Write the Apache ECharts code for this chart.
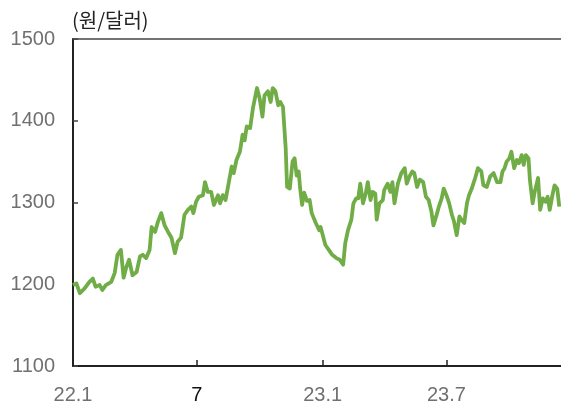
<!DOCTYPE html>
<html>
<head>
<meta charset="utf-8">
<script src="https://cdn.jsdelivr.net/npm/echarts@6/dist/echarts.min.js"></script>
<style>
html,body{margin:0;padding:0;background:#fff;}
#c{width:561px;height:409px;}
</style>
</head>
<body>
<div id="c"></div>
<script>
const dates = [
'2022-01-01','2022-01-06','2022-01-11','2022-01-18','2022-01-25','2022-01-30','2022-02-03','2022-02-09','2022-02-13','2022-02-18',
'2022-02-26','2022-03-03','2022-03-07','2022-03-12','2022-03-16','2022-03-20','2022-03-24','2022-03-29','2022-04-04','2022-04-09',
'2022-04-13','2022-04-18','2022-04-23','2022-04-26','2022-05-01','2022-05-05','2022-05-10','2022-05-15','2022-05-20','2022-05-25',
'2022-05-30','2022-06-03','2022-06-08','2022-06-13','2022-06-18','2022-06-23','2022-06-26','2022-06-30','2022-07-04','2022-07-10',
'2022-07-13','2022-07-17','2022-07-22','2022-07-26','2022-08-01','2022-08-04','2022-08-08','2022-08-12','2022-08-16','2022-08-21',
'2022-08-24','2022-08-28','2022-09-02','2022-09-06','2022-09-09','2022-09-12','2022-09-17','2022-09-21','2022-09-27','2022-10-01',
'2022-10-05','2022-10-08','2022-10-13','2022-10-17','2022-10-20','2022-10-24','2022-10-28','2022-10-31','2022-11-04','2022-11-08',
'2022-11-10','2022-11-14','2022-11-18','2022-11-21','2022-11-24','2022-11-27','2022-11-29','2022-12-02','2022-12-05','2022-12-09',
'2022-12-13','2022-12-16','2022-12-22','2022-12-27','2022-12-29','2023-01-05','2023-01-10','2023-01-15','2023-01-21','2023-01-26',
'2023-01-31','2023-02-03','2023-02-07','2023-02-12','2023-02-15','2023-02-19','2023-02-22','2023-02-25','2023-03-01','2023-03-05',
'2023-03-08','2023-03-12','2023-03-15','2023-03-19','2023-03-21','2023-03-25','2023-03-30','2023-04-01','2023-04-06','2023-04-10',
'2023-04-13','2023-04-16','2023-04-21','2023-04-26','2023-05-01','2023-05-04','2023-05-08','2023-05-12','2023-05-15','2023-05-19',
'2023-05-23','2023-05-28','2023-06-01','2023-06-05','2023-06-09','2023-06-12','2023-06-16','2023-06-20','2023-06-24','2023-06-27',
'2023-07-01','2023-07-05','2023-07-09','2023-07-12','2023-07-16','2023-07-20','2023-07-23','2023-07-27','2023-07-31','2023-08-03',
'2023-08-07','2023-08-12','2023-08-16','2023-08-21','2023-08-24','2023-08-29','2023-09-03','2023-09-08','2023-09-13','2023-09-18',
'2023-09-21','2023-09-24','2023-09-27','2023-10-01','2023-10-04','2023-10-08','2023-10-12','2023-10-15','2023-10-19','2023-10-22',
'2023-10-25','2023-10-29','2023-10-31','2023-11-04','2023-11-07','2023-11-12','2023-11-15','2023-11-19','2023-11-23','2023-11-26',
'2023-11-29','2023-12-03','2023-12-06','2023-12-10','2023-12-13'
];
const krwPerUsd = [
1199,1201,1189,1195,1203,1207,1197,1199,1193,1199,
1203,1214,1236,1242,1208,1221,1230,1211,1215,1234,
1236,1232,1242,1270,1264,1276,1287,1272,1264,1257,
1238,1252,1257,1285,1291,1295,1287,1301,1307,1309,
1325,1313,1313,1297,1309,1299,1309,1303,1321,1344,
1336,1352,1362,1383,1376,1393,1391,1415,1440,1427,
1405,1431,1436,1423,1440,1436,1419,1423,1417,1366,
1319,1317,1350,1354,1333,1338,1318,1297,1312,1302,
1303,1287,1275,1266,1270,1248,1242,1236,1232,1230,
1224,1250,1266,1279,1299,1305,1305,1323,1299,1311,
1325,1303,1313,1311,1279,1299,1303,1315,1323,1313,
1325,1299,1323,1336,1342,1323,1332,1338,1336,1319,
1328,1325,1307,1303,1289,1272,1283,1295,1305,1317,
1309,1299,1285,1277,1260,1283,1279,1275,1299,1309,
1317,1330,1342,1338,1321,1319,1332,1336,1325,1325,
1338,1342,1350,1354,1362,1342,1352,1348,1358,1346,
1358,1354,1328,1299,1313,1330,1291,1305,1301,1307,
1291,1309,1321,1317,1295
];
const xTickDates = ['2022-01-01','2022-07-01','2023-01-01','2023-07-01'];
const xTickLabels = ['22.1','7','23.1','23.7'];
const yTicks = [1100,1200,1300,1400,1500];
const unitLabel = '(원/달러)';

const DAY = 86400000;
function toTs(s){const p=s.split('-').map(Number);return Date.UTC(p[0],p[1]-1,p[2]);}
const xMin = toTs('2022-01-01');
const xMax = toTs('2023-12-15') + DAY/2;
const tickTs = xTickDates.map(toTs);
const seriesData = dates.map((d,i)=>[toTs(d), krwPerUsd[i]]);

const chart = echarts.init(document.getElementById('c'), null, {renderer:'canvas'});
chart.setOption({
  animation:false,
  backgroundColor:'#fff',
  title:{text:unitLabel,left:67,top:5,textStyle:{fontFamily:'Noto Sans CJK KR',fontSize:20,fontWeight:'normal',color:'#222'}},
  grid:{left:73,right:0,top:39,bottom:43},
  xAxis:[{
    type:'value',min:xMin,max:xMax,
    axisLine:{show:true,lineStyle:{color:'#222',width:2}},
    axisTick:{show:true,inside:true,length:6,lineStyle:{color:'#222',width:1.5},customValues:tickTs},
    axisLabel:{show:true,customValues:tickTs,margin:19,fontFamily:'Liberation Sans',fontSize:20,color:'#707070',
      formatter:function(v){
        let best=0,bd=Infinity;
        tickTs.forEach((t,i)=>{const d=Math.abs(t-v);if(d<bd){bd=d;best=i;}});
        const lab=xTickLabels[best];
        return lab.indexOf('.')<0 ? '{k|'+lab+'}' : lab;
      },
      rich:{k:{fontFamily:'Liberation Sans',fontSize:20,color:'#111'}}
    },
    splitLine:{show:false}
  },{
    type:'value',position:'top',min:xMin,max:xMax,
    axisLine:{show:true,lineStyle:{color:'#444',width:1.5}},
    axisTick:{show:false},axisLabel:{show:false},splitLine:{show:false}
  }],
  yAxis:{
    type:'value',min:yTicks[0],max:yTicks[yTicks.length-1],interval:100,
    axisLine:{show:true,lineStyle:{color:'#222',width:2}},
    axisTick:{show:true,inside:true,length:5,lineStyle:{color:'#444',width:1.5}},
    axisLabel:{margin:18,fontFamily:'Liberation Sans',fontSize:20,color:'#707070',formatter:function(v){return String(v);}},
    splitLine:{show:false}
  },
  series:[{
    type:'line',xAxisIndex:0,data:seriesData,showSymbol:false,symbol:'none',
    lineStyle:{color:'#70AD47',width:3.8,join:'round'},
    clip:false
  }]
});
</script>
</body>
</html>
